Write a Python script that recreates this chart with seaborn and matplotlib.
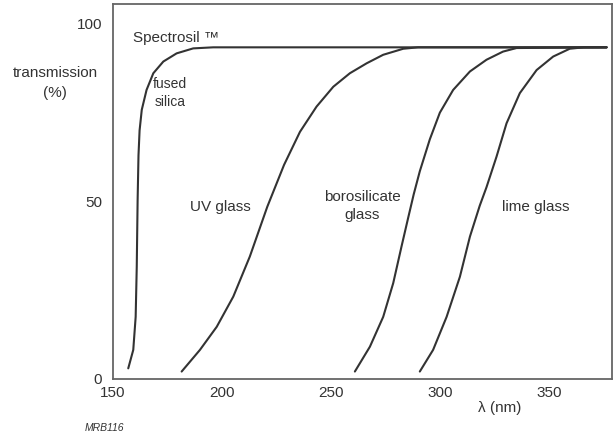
import matplotlib
matplotlib.use("Agg")
import matplotlib.pyplot as plt
import seaborn as sns
import pandas as pd

# ---- data ----
fused_x = [157.0, 159.3, 160.4, 160.9, 161.3, 161.7, 162.2, 163.2, 165.4, 168.5, 173.1, 179.2, 186.8, 196.0, 376.5]
fused_y = [3.0, 8.2, 17.5, 31.6, 50.4, 63.0, 70.0, 75.8, 81.4, 86.1, 89.4, 91.7, 93.1, 93.4, 93.4]

uv_x = [181.5, 189.9, 197.6, 205.2, 212.8, 220.8, 228.5, 235.8, 243.4, 251.1, 258.7, 266.4, 274.0, 283.2, 290.0, 376.5]
uv_y = [2.1, 8.2, 14.7, 23.2, 34.5, 48.5, 60.3, 69.6, 76.7, 82.3, 86.1, 88.9, 91.3, 93.0, 93.4, 93.4]

boro_x = [261.0, 267.9, 274.0, 278.6, 282.4, 285.5, 288.0, 290.8, 295.4, 300.0, 306.1, 313.8, 321.4, 329.0, 335.2, 376.5]
boro_y = [2.1, 9.1, 17.5, 27.0, 37.3, 45.5, 52.0, 58.5, 67.5, 75.0, 81.4, 86.6, 89.9, 92.2, 93.2, 93.4]

lime_x = [290.8, 296.9, 303.1, 309.2, 313.8, 318.3, 321.4, 326.0, 330.6, 336.7, 344.4, 352.0, 359.6, 366.0, 376.5]
lime_y = [2.1, 8.2, 17.5, 28.8, 40.1, 48.8, 54.0, 62.6, 72.0, 80.5, 87.0, 90.8, 93.0, 93.4, 93.4]

x_ticks = [150, 200, 250, 300, 350]
y_ticks = [0, 50, 100]

series = {
    "fused silica": (fused_x, fused_y),
    "UV glass": (uv_x, uv_y),
    "borosilicate glass": (boro_x, boro_y),
    "lime glass": (lime_x, lime_y),
}
frames = []
for name, (xs, ys) in series.items():
    frames.append(pd.DataFrame({"wavelength": xs, "transmission": ys, "material": name}))
df = pd.concat(frames, ignore_index=True)

sns.set_style("white")
plt.rcParams["font.family"] = ["Liberation Sans", "DejaVu Sans"]

W, H = 614, 441
fig = plt.figure(figsize=(W / 100, H / 100), dpi=100)
ax = fig.add_axes([113 / W, 1 - 379 / H, (612 - 113) / W, (379 - 4) / H])

line_col = "#333333"
sns.lineplot(data=df, x="wavelength", y="transmission", hue="material",
             palette=[line_col] * 4, estimator=None, sort=False,
             legend=False, linewidth=1.5, ax=ax)

ax.set_xlim(150, 379)
ax.set_ylim(0, 105.6)
ax.set_xticks(x_ticks)
ax.set_yticks(y_ticks)
ax.tick_params(direction="in", length=5, width=1, color="#555555",
               labelsize=11, labelcolor="#333333")
ax.tick_params(axis="y", pad=8)
ax.tick_params(axis="x", pad=5)
ax.set_xlabel("")
ax.set_ylabel("")
for sp in ax.spines.values():
    sp.set_visible(True)
    sp.set_color("#666666")
    sp.set_linewidth(1.3)


def ftext(px, py, s, **kw):
    fig.text(px / W, 1 - py / H, s, color="#333333", **kw)


ftext(55, 73, "transmission", fontsize=11, ha="center", va="center")
ftext(55, 93, "(%)", fontsize=11, ha="center", va="center")
ftext(133, 38, "Spectrosil ™", fontsize=11, ha="left", va="center")
ftext(170, 84, "fused", fontsize=10, ha="center", va="center")
ftext(170, 102, "silica", fontsize=10, ha="center", va="center")
ftext(220, 207, "UV glass", fontsize=11, ha="center", va="center")
ftext(362, 197, "borosilicate", fontsize=11, ha="center", va="center")
ftext(362, 215, "glass", fontsize=11, ha="center", va="center")
ftext(536, 207, "lime glass", fontsize=11, ha="center", va="center")
ftext(500, 408, "λ (nm)", fontsize=11, ha="center", va="center")
ftext(85, 428, "MRB116", fontsize=7.5, style="italic", ha="left", va="center")

fig.savefig("out.png", dpi=100)
